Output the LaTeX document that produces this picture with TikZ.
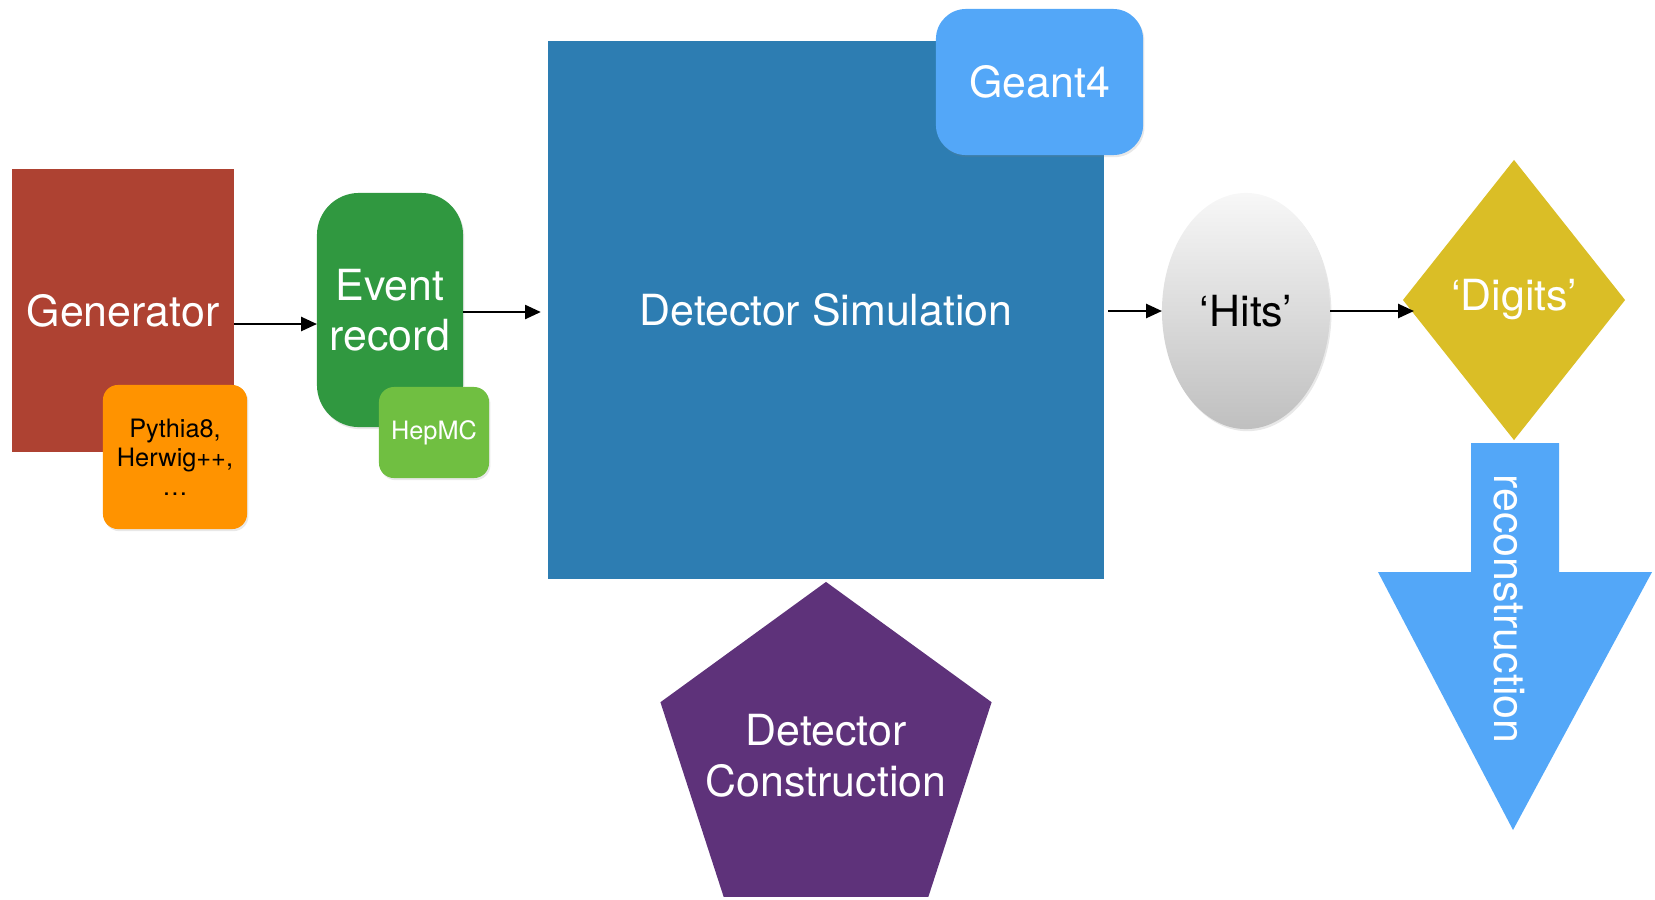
\documentclass[tikz,border=0pt]{standalone}
\usepackage{fontspec}
\setmainfont{TeX Gyre Heros}
\usetikzlibrary{shapes.geometric,arrows.meta,shadows}

\definecolor{genred}{RGB}{174,66,50}
\definecolor{pyorange}{RGB}{255,147,0}
\definecolor{evgreen}{RGB}{48,152,64}
\definecolor{hepgreen}{RGB}{112,191,65}
\definecolor{simblue}{RGB}{45,125,178}
\definecolor{gfourblue}{RGB}{83,167,248}
\definecolor{digyellow}{RGB}{218,190,38}
\definecolor{conpurple}{RGB}{94,50,122}

\begin{document}
\begin{tikzpicture}[x=0.01cm, y=-0.01cm,
    big/.style={text=white, font=\fontsize{12.2}{14.4}\selectfont, align=center, inner sep=0pt, outer sep=0pt},
    small/.style={font=\fontsize{7.2}{8.3}\selectfont, align=center, inner sep=0pt, outer sep=0pt},
    soft/.style={drop shadow={opacity=0.18, shadow xshift=0.4pt, shadow yshift=-0.6pt}},
    arr/.style={line width=0.6pt, -{Triangle[length=4.5pt, width=4pt]}}]
    \useasboundingbox (0,0) rectangle (1655,899);

    \node[big, fill=genred, minimum width=2.22cm, minimum height=2.83cm] (gen) at (123,310.5) {Generator};
    \node[small, soft, fill=pyorange, rounded corners=0.15cm, minimum width=1.44cm, minimum height=1.44cm] (pythia) at (175,457) {Pythia8,\\Herwig++,\\\dots};

    \node[big, soft, fill=evgreen, rounded corners=0.42cm, minimum width=1.46cm, minimum height=2.34cm] (evt) at (390,310) {Event\\record};
    \node[small, soft, text=white, fill=hepgreen, rounded corners=0.15cm, minimum width=1.10cm, minimum height=0.91cm] (hepmc) at (434,432.5) {HepMC};

    \node[big, fill=simblue, minimum width=5.56cm, minimum height=5.38cm] (sim) at (826,310) {Detector Simulation};
    \node[big, soft, fill=gfourblue, rounded corners=0.3cm, minimum width=2.07cm, minimum height=1.46cm] (geant) at (1039.5,82) {Geant4};

    \node[big, soft, ellipse, text=black, top color=black!3, bottom color=black!25, minimum width=1.68cm, minimum height=2.36cm] (hits) at (1246,311) {‘Hits’};
    \node[big, diamond, fill=digyellow, minimum width=2.22cm, minimum height=2.80cm] (digits) at (1514,300) {‘Digits’};

    \fill[gfourblue] (1471,443) -- (1559,443) -- (1559,572) -- (1652,572) -- (1513,830) -- (1378,572) -- (1471,572) -- cycle;
    \node[big, rotate=-90] (reco) at (1509,609) {reconstruction};

    \node[regular polygon, regular polygon sides=5, fill=conpurple, minimum size=3.48cm, inner sep=0pt, outer sep=0pt] (con) at (826,756) {};
    \node[big] (contxt) at (con.center) {Detector\\Construction};

    \draw[arr] (gen.east |- 0,324) -- (evt.west |- 0,324);
    \draw[arr, shorten >=0.07cm] (evt.east |- 0,312) -- (sim.west |- 0,312);
    \draw[arr, shorten <=0.04cm] (sim.east |- hits.west) -- (hits.west);
    \draw[arr] (hits.east) -- ([xshift=0.11cm]digits.west |- hits.east);
\end{tikzpicture}
\end{document}
